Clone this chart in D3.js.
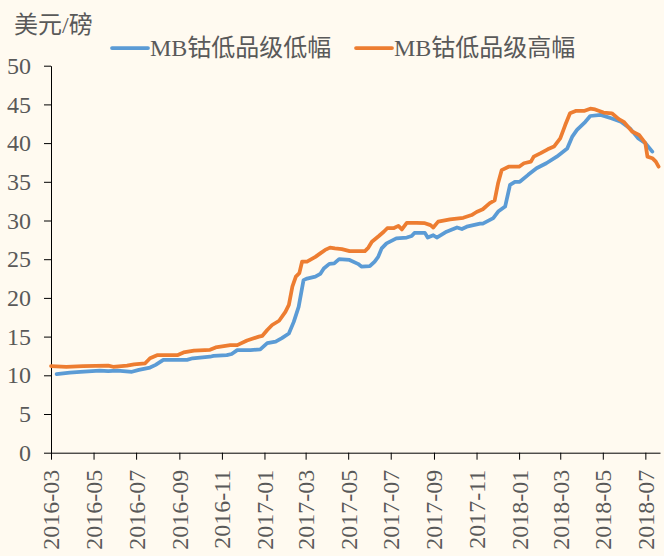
<!DOCTYPE html>
<html>
<head>
<meta charset="utf-8">
<script src="https://cdn.jsdelivr.net/npm/d3@7"></script>
<style>
  html, body { margin: 0; padding: 0; background: #FFFAF0; }
  svg { display: block; }
  text { font-family: "Liberation Serif", "Times New Roman", "Noto Sans CJK SC", serif; fill: #595959; }
</style>
</head>
<body>
<main></main>
<script>
// MB cobalt low grade, low end (blue)
const lowDates = [
  "2016-03-09","2016-03-28","2016-04-12","2016-05-10","2016-05-22","2016-06-04","2016-06-25","2016-07-05",
  "2016-07-21","2016-07-29","2016-08-09","2016-09-12","2016-09-20","2016-10-15","2016-10-20","2016-11-08",
  "2016-11-15","2016-11-23","2016-12-12","2016-12-26","2017-01-05","2017-01-17","2017-01-26","2017-02-05",
  "2017-02-12","2017-02-19","2017-02-26","2017-03-03","2017-03-15","2017-03-22","2017-03-27","2017-04-04",
  "2017-04-11","2017-04-18","2017-05-03","2017-05-15","2017-05-20","2017-06-01","2017-06-08","2017-06-13",
  "2017-06-18","2017-06-25","2017-07-09","2017-07-24","2017-07-31","2017-08-04","2017-08-19","2017-08-23",
  "2017-08-31","2017-09-05","2017-09-19","2017-10-04","2017-10-11","2017-10-18","2017-11-06","2017-11-10",
  "2017-11-25","2017-12-02","2017-12-12","2017-12-19","2017-12-26","2018-01-02","2018-01-14","2018-01-26",
  "2018-02-09","2018-02-24","2018-03-11","2018-03-18","2018-03-25","2018-04-06","2018-04-13","2018-04-28",
  "2018-05-13","2018-05-27","2018-06-09","2018-06-21","2018-07-01","2018-07-11"
];
const lowValues = [
  10.15,10.35,10.45,10.6,10.55,10.6,10.45,10.7,
  11.0,11.35,12.0,12.0,12.2,12.4,12.5,12.6,
  12.75,13.25,13.25,13.35,14.15,14.35,14.8,15.4,
  16.9,18.85,22.3,22.5,22.75,23.1,23.8,24.4,
  24.45,25.0,24.9,24.4,24.05,24.1,24.7,25.3,
  26.4,27.05,27.7,27.8,28.0,28.4,28.4,27.8,
  28.1,27.8,28.55,29.1,28.9,29.2,29.6,29.6,
  30.3,31.15,31.8,34.6,35.0,35.0,35.9,36.75,
  37.4,38.25,39.3,40.8,41.7,42.75,43.5,43.65,
  43.2,42.75,41.9,40.6,40.0,38.9
];

// MB cobalt low grade, high end (orange)
const highDates = [
  "2016-03-01","2016-03-23","2016-04-16","2016-05-22","2016-05-29","2016-06-18","2016-06-28","2016-07-14",
  "2016-07-21","2016-07-31","2016-08-29","2016-09-07","2016-09-22","2016-10-15","2016-10-23","2016-11-13",
  "2016-11-23","2016-12-07","2016-12-24","2016-12-29","2017-01-05","2017-01-12","2017-01-22","2017-01-31",
  "2017-02-05","2017-02-10","2017-02-15","2017-02-20","2017-02-24","2017-03-03","2017-03-15","2017-03-22",
  "2017-03-29","2017-04-05","2017-04-12","2017-04-22","2017-05-03","2017-05-25","2017-05-30","2017-06-04",
  "2017-06-14","2017-06-21","2017-06-26","2017-07-05","2017-07-12","2017-07-17","2017-07-24","2017-08-07",
  "2017-08-19","2017-08-27","2017-08-31","2017-09-07","2017-09-24","2017-10-13","2017-10-25","2017-11-01",
  "2017-11-10","2017-11-20","2017-11-27","2017-12-02","2017-12-07","2017-12-17","2018-01-01","2018-01-08",
  "2018-01-18","2018-01-22","2018-02-01","2018-02-11","2018-02-20","2018-03-01","2018-03-08","2018-03-15",
  "2018-03-23","2018-04-04","2018-04-13","2018-04-20","2018-05-02","2018-05-14","2018-05-24","2018-05-31",
  "2018-06-12","2018-06-22","2018-07-01","2018-07-04","2018-07-11","2018-07-16","2018-07-20"
];
const highValues = [
  11.2,11.1,11.2,11.25,11.1,11.25,11.4,11.55,
  12.2,12.6,12.6,12.95,13.2,13.3,13.6,13.9,
  13.9,14.5,15.0,15.1,15.85,16.5,17.05,18.2,
  19.1,21.45,22.75,23.2,24.7,24.7,25.3,25.75,
  26.2,26.5,26.4,26.3,26.05,26.05,26.5,27.25,
  28.0,28.55,29.0,29.0,29.3,28.85,29.7,29.7,
  29.65,29.4,29.1,29.85,30.15,30.35,30.7,31.1,
  31.45,32.25,32.6,34.85,36.5,36.95,36.95,37.4,
  37.6,38.25,38.7,39.2,39.55,40.6,42.3,43.85,
  44.15,44.15,44.45,44.35,43.95,43.85,43.1,42.75,
  41.5,41.05,40.0,38.25,38.05,37.6,36.95
];

const seriesNames = ["MB钴低品级低幅", "MB钴低品级高幅"];
const seriesColors = ["#5B9BD5", "#ED7D31"];
const yTicks = [0, 5, 10, 15, 20, 25, 30, 35, 40, 45, 50];
const unitLabel = "美元/磅";

const width = 664, height = 556;
const parse = d3.timeParse("%Y-%m-%d");

const svg = d3.select('main').append('svg')
    .attr('width', width)
    .attr('height', height);

svg.append('rect')
    .attr('width', width)
    .attr('height', height)
    .attr('fill', '#FFFAF0');

const x = d3.scaleTime()
    .domain([parse("2016-03-01"), parse("2018-07-22")])
    .range([51, 660]);

const y = d3.scaleLinear()
    .domain([0, 50])
    .range([452.7, 65.7]);

// axes
const xAxis = svg.append('g')
    .attr('transform', `translate(0,${y(0)})`)
    .call(d3.axisBottom(x)
        .ticks(d3.timeMonth.every(2))
        .tickFormat(d3.timeFormat("%Y-%m"))
        .tickSizeInner(7)
        .tickSizeOuter(0));

xAxis.selectAll('text')
    .attr('transform', 'rotate(-90)')
    .attr('text-anchor', 'end')
    .attr('x', -17)
    .attr('y', 0)
    .attr('dy', '0.33em')
    .style('font-size', '24px');

const yAxis = svg.append('g')
    .attr('transform', `translate(${x.range()[0]},0)`)
    .call(d3.axisLeft(y)
        .tickValues(yTicks)
        .tickSizeInner(7)
        .tickSizeOuter(0)
        .tickPadding(13));

yAxis.selectAll('text').style('font-size', '24px');
svg.selectAll('.domain, .tick line').attr('stroke', '#000').attr('stroke-width', 1);
svg.selectAll('.tick text').attr('fill', '#595959');

// lines
const line = d3.line()
    .x(d => x(d.date))
    .y(d => y(d.value));

const series = [
    lowDates.map((d, i) => ({ date: parse(d), value: lowValues[i] })),
    highDates.map((d, i) => ({ date: parse(d), value: highValues[i] }))
];

series.forEach((s, i) => {
    svg.append('path')
        .datum(s)
        .attr('fill', 'none')
        .attr('stroke', seriesColors[i])
        .attr('stroke-width', 3.75)
        .attr('stroke-linejoin', 'round')
        .attr('stroke-linecap', 'round')
        .attr('d', line);
});

// unit label
svg.append('text')
    .attr('x', 14)
    .attr('y', 33)
    .style('font-size', '24px')
    .text(unitLabel);

// legend
const legendX = [112, 356];
seriesNames.forEach((name, i) => {
    const g = svg.append('g').attr('transform', `translate(${legendX[i]},48)`);
    g.append('line')
        .attr('x1', 0).attr('x2', 36)
        .attr('stroke', seriesColors[i])
        .attr('stroke-width', 3.75)
        .attr('stroke-linecap', 'round');
    g.append('text')
        .attr('x', 38)
        .attr('dy', '0.35em')
        .style('font-size', '24px')
        .text(name);
});
</script>
</body>
</html>
